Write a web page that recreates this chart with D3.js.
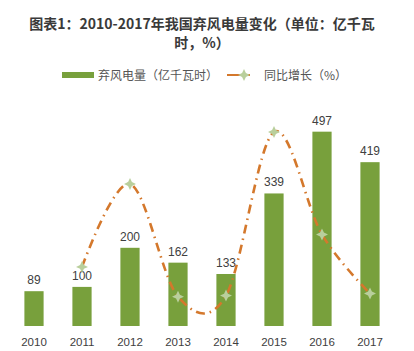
<!DOCTYPE html>
<html><head><meta charset="utf-8">
<script src="https://cdn.jsdelivr.net/npm/d3@7"></script>
<style>
html,body{margin:0;padding:0;background:#fff;}
svg{display:block;font-family:"Noto Sans CJK SC","Noto Sans",sans-serif;}
</style></head>
<body>
<script>
const years = ["2010","2011","2012","2013","2014","2015","2016","2017"];
const curtailment = [89, 100, 200, 162, 133, 339, 497, 419];
const growthYears = ["2011","2012","2013","2014","2015","2016","2017"];
const growth = [12.4, 100.0, -19.0, -17.9, 154.9, 46.6, -15.7];
const titleLines = ["图表1：2010-2017年我国弃风电量变化（单位：亿千瓦", "时，%）"];
const legendLabels = ["弃风电量（亿千瓦时）", "同比增长（%）"];

const W = 414, H = 351;
const barColor = "#78A03C", lineColor = "#D4782C", markColor = "#B9CF9C", textColor = "#404040";

const svg = d3.select("body").append("svg").attr("width", W).attr("height", H);

// title
svg.append("g").selectAll("text").data(titleLines).join("text")
  .attr("x", 202).attr("y", (d,i) => 29 + i*19)
  .attr("text-anchor", "middle").attr("font-size", 14).attr("font-weight", "bold")
  .attr("fill", "#3a3a3a").text(d => d);

const x = d3.scaleBand().domain(years).range([10, 394]).paddingInner(0.6).paddingOuter(0.3);
const y = d3.scaleLinear().domain([0, 500]).range([326, 130.5]);
const y2 = d3.scaleLinear().domain([-50, 200]).range([326, 89.3]);

// bars
const data = years.map((yr, i) => ({yr, v: curtailment[i]}));
svg.append("g").selectAll("rect").data(data).join("rect")
  .attr("x", d => x(d.yr)).attr("width", x.bandwidth())
  .attr("y", d => y(d.v)).attr("height", d => y(0) - y(d.v))
  .attr("fill", barColor);

// value labels
svg.append("g").selectAll("text").data(data).join("text")
  .attr("x", d => x(d.yr) + x.bandwidth()/2).attr("y", d => y(d.v) - 7)
  .attr("text-anchor", "middle").attr("font-size", 12).attr("fill", textColor)
  .attr("font-family", "'Liberation Sans', Arial, sans-serif")
  .text(d => d.v);

// x axis
const xAxis = svg.append("g").attr("transform", "translate(0,330)")
  .call(d3.axisBottom(x).tickSize(0).tickPadding(8));
xAxis.select(".domain").remove();
xAxis.selectAll("text").attr("font-size", 11.5).attr("fill", textColor)
  .attr("font-family", "'Liberation Sans', Arial, sans-serif");

// growth line
const gdata = growthYears.map((yr, i) => ({yr, v: growth[i]}));
const line = d3.line()
  .x(d => x(d.yr) + x.bandwidth()/2).y(d => y2(d.v))
  .curve(d3.curveCatmullRom.alpha(0));
svg.append("path").datum(gdata).attr("d", line)
  .attr("fill", "none").attr("stroke", lineColor).attr("stroke-width", 2.6)
  .attr("stroke-dasharray", "9,5,1.5,5").attr("stroke-linecap", "butt");

const star4 = {
  draw(ctx, size) {
    const r = Math.sqrt(size) * 0.75, q = r * 0.32;
    ctx.moveTo(0, -r); ctx.lineTo(q, -q); ctx.lineTo(r, 0); ctx.lineTo(q, q);
    ctx.lineTo(0, r); ctx.lineTo(-q, q); ctx.lineTo(-r, 0); ctx.lineTo(-q, -q); ctx.closePath();
  }
};
const sym = d3.symbol().type(star4).size(64);
svg.append("g").selectAll("path").data(gdata).join("path")
  .attr("transform", d => `translate(${x(d.yr) + x.bandwidth()/2},${y2(d.v)})`)
  .attr("d", sym).attr("fill", markColor);

// legend
const lg = svg.append("g");
lg.append("rect").attr("x", 62).attr("y", 72).attr("width", 32).attr("height", 6).attr("fill", barColor);
lg.append("text").attr("x", 98).attr("y", 79.5).attr("font-size", 12).attr("fill", "#555").text(legendLabels[0]);
lg.append("line").attr("x1", 227).attr("x2", 255).attr("y1", 75).attr("y2", 75)
  .attr("stroke", lineColor).attr("stroke-width", 2.2).attr("stroke-dasharray", "14,6,3,10");
lg.append("path").attr("transform", "translate(244,75)").attr("d", sym).attr("fill", markColor);
lg.append("text").attr("x", 264).attr("y", 79.5).attr("font-size", 12).attr("fill", "#555").text(legendLabels[1]);
</script>
</body></html>
